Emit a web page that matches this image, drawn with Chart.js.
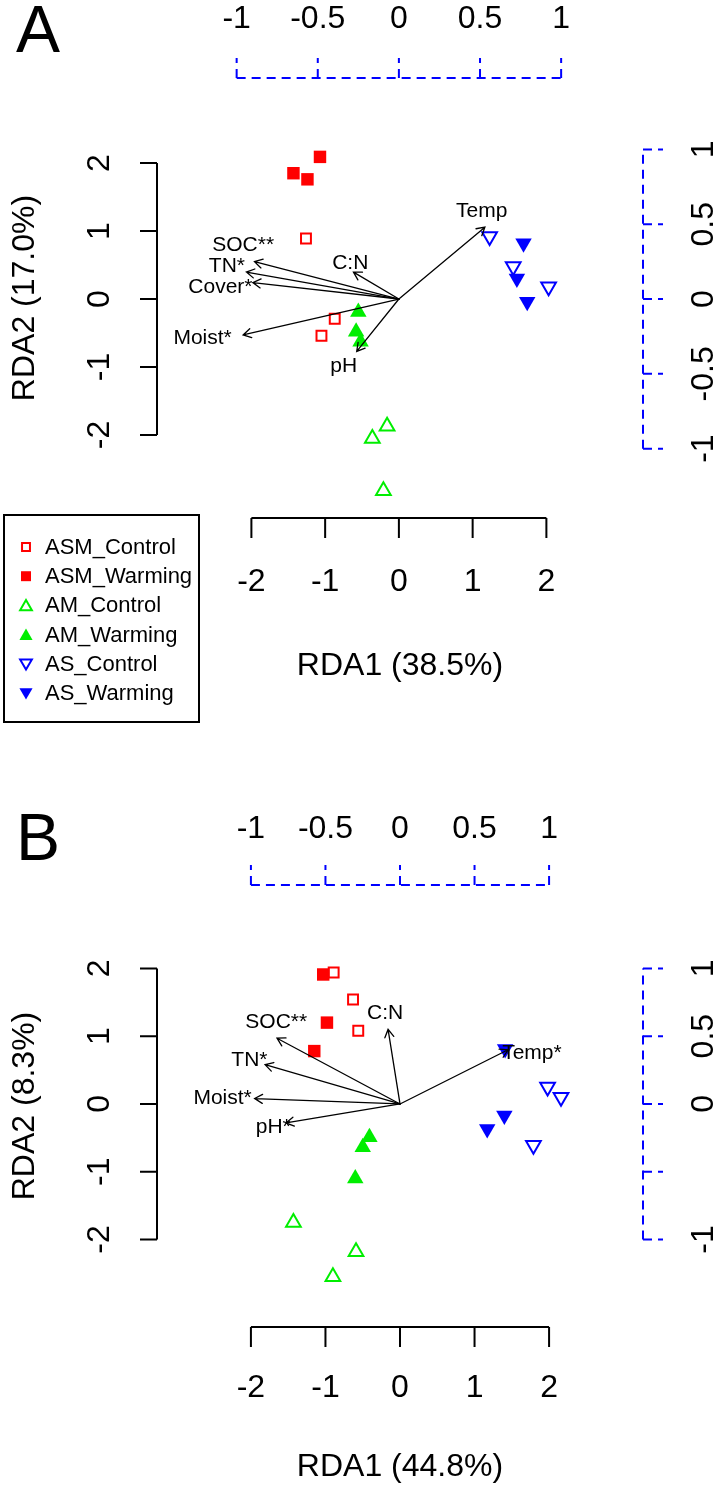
<!DOCTYPE html>
<html><head><meta charset="utf-8">
<script src="https://cdn.jsdelivr.net/npm/chart.js@4.4.1/dist/chart.umd.min.js"></script>
<style>
html,body{margin:0;padding:0;background:#fff;}
#wrap{position:relative;width:721px;height:1490px;overflow:hidden;}
canvas{position:absolute;left:0;}
</style></head><body>
<div id="wrap">
<canvas id="cA" width="721" height="745" style="top:0px"></canvas>
<canvas id="cB" width="721" height="745" style="top:745px"></canvas>
</div>
<script>
// ---------------- DATA ----------------
const groupNames = ['ASM_Control','ASM_Warming','AM_Control','AM_Warming','AS_Control','AS_Warming'];

// Panel A : site scores
const A_ASM_Control_x = [-1.26, -0.87, -1.05];
const A_ASM_Control_y = [0.89, -0.29, -0.54];
const A_ASM_Warming_x = [-1.07, -1.43, -1.24];
const A_ASM_Warming_y = [2.09, 1.85, 1.76];
const A_AM_Control_x  = [-0.16, -0.36, -0.21];
const A_AM_Control_y  = [-1.87, -2.05, -2.82];
const A_AM_Warming_x  = [-0.55, -0.58, -0.52];
const A_AM_Warming_y  = [-0.19, -0.48, -0.63];
const A_AS_Control_x  = [1.23, 1.55, 2.03];
const A_AS_Control_y  = [0.92, 0.48, 0.18];
const A_AS_Warming_x  = [1.69, 1.60, 1.74];
const A_AS_Warming_y  = [0.82, 0.30, -0.04];
// Panel A : environmental arrows (biplot scale)
const A_envNames  = ['Temp','C:N','SOC**','TN*','Cover*','Moist*','pH'];
const A_envX      = [0.53, -0.28, -0.89, -0.94, -0.90, -0.96, -0.26];
const A_envY      = [0.48, 0.18, 0.25, 0.18, 0.11, -0.24, -0.35];
const A_envLabelX = [0.51, -0.30, -0.96, -1.06, -1.10, -1.21, -0.34];
const A_envLabelY = [0.59, 0.24, 0.36, 0.22, 0.08, -0.26, -0.45];
const A_biplotMult = 2.2;
const A_xLim = [-3.28, 3.31];
const A_yLim = [-3.22, 3.25];
const A_xTitle = 'RDA1 (38.5%)';
const A_yTitle = 'RDA2 (17.0%)';

// Panel B : site scores
const B_ASM_Control_x = [-0.89, -0.63, -0.56];
const B_ASM_Control_y = [1.94, 1.54, 1.08];
const B_ASM_Warming_x = [-1.03, -0.98, -1.15];
const B_ASM_Warming_y = [1.91, 1.20, 0.78];
const B_AM_Control_x  = [-1.43, -0.59, -0.90];
const B_AM_Control_y  = [-1.75, -2.18, -2.55];
const B_AM_Warming_x  = [-0.41, -0.50, -0.60];
const B_AM_Warming_y  = [-0.49, -0.64, -1.10];
const B_AS_Control_x  = [1.98, 2.16, 1.79];
const B_AS_Control_y  = [0.25, 0.10, -0.61];
const B_AS_Warming_x  = [1.41, 1.40, 1.17];
const B_AS_Warming_y  = [0.81, -0.17, -0.37];
// Panel B : environmental arrows (biplot scale)
const B_envNames  = ['Temp*','C:N','SOC**','TN*','Moist*','pH*'];
const B_envX      = [0.725, -0.08, -0.825, -0.905, -0.975, -0.765];
const B_envY      = [0.40, 0.55, 0.485, 0.29, 0.04, -0.14];
const B_envLabelX = [0.885, -0.10, -0.83, -1.01, -1.19, -0.85];
const B_envLabelY = [0.375, 0.67, 0.60, 0.325, 0.045, -0.17];
const B_biplotMult = 2.0;
const B_xLim = [-3.26, 3.26];
const B_yLim = [-3.29, 3.23];
const B_xTitle = 'RDA1 (44.8%)';
const B_yTitle = 'RDA2 (8.3%)';

// Tick values / labels
const xTickVals = [-2, -1, 0, 1, 2];
const yTickVals = [-2, -1, 0, 1, 2];
const biplotTickVals = [-1, -0.5, 0, 0.5, 1];
const A_topTickLabels   = ['-1', '-0.5', '0', '0.5', '1'];
const A_rightTickLabels = ['-1', '-0.5', '0', '0.5', '1'];
const B_topTickLabels   = ['-1', '-0.5', '0', '0.5', '1'];
const B_rightTickLabels = ['-1', '', '0', '0.5', '1'];

// ---------------- STYLES ----------------
const RED = '#ff0000', GREEN = '#00ee00', BLUE = '#0000ff';
const groupStyles = [
  {shape:'rect', rot:0,   r:7,   bw:2, color:RED,   filled:false},
  {shape:'rect', rot:0,   r:8.8, bw:0, color:RED,   filled:true},
  {shape:'triangle', rot:0,   r:8.5, bw:2, color:GREEN, filled:false},
  {shape:'triangle', rot:0,   r:9.5, bw:0, color:GREEN, filled:true},
  {shape:'triangle', rot:180, r:8.5, bw:2, color:BLUE,  filled:false},
  {shape:'triangle', rot:180, r:9.5, bw:0, color:BLUE,  filled:true}
];
const FONT = '"Liberation Sans", Arial, Helvetica, sans-serif';

function datasetsFor(xsList, ysList) {
  return groupNames.map((g, i) => {
    const s = groupStyles[i];
    return {
      label: g,
      data: xsList[i].map((v, j) => ({x: v, y: ysList[i][j]})),
      pointStyle: s.shape,
      pointRotation: s.rot,
      pointRadius: s.r,
      pointHoverRadius: s.r,
      pointBorderWidth: s.bw,
      pointBorderColor: s.color,
      pointBackgroundColor: s.filled ? s.color : 'rgba(0,0,0,0)',
      showLine: false
    };
  });
}

function drawMarker(ctx, s, x, y, scale) {
  const r = s.r * scale;
  ctx.save();
  ctx.beginPath();
  if (s.shape === 'rect') {
    const h = Math.SQRT1_2 * r;
    ctx.rect(x - h, y - h, 2 * h, 2 * h);
  } else {
    let rad = s.rot * Math.PI / 180;
    ctx.moveTo(x + Math.sin(rad) * r, y - Math.cos(rad) * r);
    rad += 2 * Math.PI / 3;
    ctx.lineTo(x + Math.sin(rad) * r, y - Math.cos(rad) * r);
    rad += 2 * Math.PI / 3;
    ctx.lineTo(x + Math.sin(rad) * r, y - Math.cos(rad) * r);
    ctx.closePath();
  }
  if (s.filled) { ctx.fillStyle = s.color; ctx.fill(); }
  else { ctx.strokeStyle = s.color; ctx.lineWidth = s.bw; ctx.stroke(); }
  ctx.restore();
}

function vText(ctx, txt, x, y) {
  ctx.save(); ctx.translate(x, y); ctx.rotate(-Math.PI / 2);
  ctx.fillText(txt, 0, 0); ctx.restore();
}

const rdaDecor = {
  id: 'rdaDecor',
  afterDatasetsDraw(chart, args, o) {
    const P = o.panel;
    const ctx = chart.ctx;
    const xs = chart.scales.x, ys = chart.scales.y, x2 = chart.scales.x2, y2 = chart.scales.y2;
    const ca = chart.chartArea;
    ctx.save();

    // ---- arrows ----
    ctx.strokeStyle = '#000'; ctx.lineWidth = 1.3; ctx.lineCap = 'round';
    const ox = x2.getPixelForValue(0), oy = y2.getPixelForValue(0);
    P.envX.forEach((vx, i) => {
      const tx = x2.getPixelForValue(vx), ty = y2.getPixelForValue(P.envY[i]);
      const ang = Math.atan2(ty - oy, tx - ox), L = 9, a = Math.PI / 6;
      ctx.beginPath();
      ctx.moveTo(ox, oy); ctx.lineTo(tx, ty);
      ctx.moveTo(tx - L * Math.cos(ang - a), ty - L * Math.sin(ang - a));
      ctx.lineTo(tx, ty);
      ctx.lineTo(tx - L * Math.cos(ang + a), ty - L * Math.sin(ang + a));
      ctx.stroke();
    });
    ctx.fillStyle = '#000';
    ctx.font = '21px ' + FONT; ctx.textAlign = 'center'; ctx.textBaseline = 'middle';
    P.envNames.forEach((n, i) => {
      ctx.fillText(n, x2.getPixelForValue(P.envLabelX[i]), y2.getPixelForValue(P.envLabelY[i]));
    });

    // ---- main axes (black) ----
    ctx.lineCap = 'butt';
    ctx.strokeStyle = '#000'; ctx.lineWidth = 2;
    ctx.beginPath();
    ctx.moveTo(xs.getPixelForValue(xTickVals[0]), ca.bottom);
    ctx.lineTo(xs.getPixelForValue(xTickVals[xTickVals.length - 1]), ca.bottom);
    xTickVals.forEach(t => { const p = xs.getPixelForValue(t); ctx.moveTo(p, ca.bottom); ctx.lineTo(p, ca.bottom + 20); });
    ctx.moveTo(ca.left, ys.getPixelForValue(yTickVals[0]));
    ctx.lineTo(ca.left, ys.getPixelForValue(yTickVals[yTickVals.length - 1]));
    yTickVals.forEach(t => { const p = ys.getPixelForValue(t); ctx.moveTo(ca.left, p); ctx.lineTo(ca.left - 17, p); });
    ctx.stroke();

    ctx.font = '32px ' + FONT; ctx.textAlign = 'center'; ctx.textBaseline = 'middle';
    xTickVals.forEach(t => ctx.fillText(String(t), xs.getPixelForValue(t), ca.bottom + P.xLabOff));
    ctx.fillText(P.xTitle, (ca.left + ca.right) / 2, ca.bottom + P.xTitleOff);
    yTickVals.forEach(t => vText(ctx, String(t), P.yLabX, ys.getPixelForValue(t)));
    vText(ctx, P.yTitle, P.yTitleX, (ca.top + ca.bottom) / 2);

    // ---- biplot axes (blue dashed) ----
    ctx.strokeStyle = BLUE; ctx.lineWidth = 2; ctx.setLineDash([9, 6]);
    const b0 = biplotTickVals[0], b1 = biplotTickVals[biplotTickVals.length - 1];
    ctx.beginPath();
    ctx.moveTo(x2.getPixelForValue(b0), ca.top); ctx.lineTo(x2.getPixelForValue(b1), ca.top);
    ctx.stroke();
    biplotTickVals.forEach(t => { const p = x2.getPixelForValue(t); ctx.beginPath(); ctx.moveTo(p, ca.top); ctx.lineTo(p, ca.top - 20); ctx.stroke(); });
    ctx.beginPath();
    ctx.moveTo(ca.right, y2.getPixelForValue(b0)); ctx.lineTo(ca.right, y2.getPixelForValue(b1));
    ctx.stroke();
    biplotTickVals.forEach(t => { const p = y2.getPixelForValue(t); ctx.beginPath(); ctx.moveTo(ca.right, p); ctx.lineTo(ca.right + 20, p); ctx.stroke(); });
    ctx.setLineDash([]);

    ctx.fillStyle = '#000';
    biplotTickVals.forEach((t, i) => ctx.fillText(P.topLabels[i], x2.getPixelForValue(t), P.topLabY));
    biplotTickVals.forEach((t, i) => { if (P.rightLabels[i]) vText(ctx, P.rightLabels[i], P.rightLabX, y2.getPixelForValue(t)); });

    // ---- panel letter ----
    ctx.font = '66px ' + FONT; ctx.textAlign = 'left'; ctx.textBaseline = 'alphabetic';
    ctx.fillText(P.letter, 16, P.letterBase);

    // ---- legend ----
    if (P.legend) {
      const L = P.legend;
      ctx.strokeStyle = '#000'; ctx.lineWidth = 2;
      ctx.strokeRect(L.x, L.y, L.w, L.h);
      ctx.font = '22px ' + FONT; ctx.textAlign = 'left'; ctx.textBaseline = 'middle';
      groupNames.forEach((g, i) => {
        const yy = L.y + L.first + i * L.step;
        drawMarker(ctx, groupStyles[i], L.x + 22, yy + (groupStyles[i].shape === 'triangle' ? (groupStyles[i].rot ? -1 : 1.5) : 0), 0.8);
        ctx.fillStyle = '#000';
        ctx.fillText(g, L.x + 41, yy + 1);
      });
    }
    ctx.restore();
  }
};

function makeChart(id, P) {
  return new Chart(document.getElementById(id), {
    type: 'scatter',
    data: { datasets: datasetsFor(P.xsList, P.ysList) },
    options: {
      responsive: false, animation: false, events: [],
      layout: { padding: P.padding },
      plugins: { legend: { display: false }, tooltip: { enabled: false }, title: { display: false },
                 rdaDecor: { panel: P } },
      scales: {
        x:  { type: 'linear', min: P.xLim[0], max: P.xLim[1], display: false },
        y:  { type: 'linear', min: P.yLim[0], max: P.yLim[1], display: false },
        x2: { type: 'linear', axis: 'x', position: 'top', min: P.xLim[0] / P.mult, max: P.xLim[1] / P.mult, display: false },
        y2: { type: 'linear', axis: 'y', position: 'right', min: P.yLim[0] / P.mult, max: P.yLim[1] / P.mult, display: false }
      }
    },
    plugins: [rdaDecor]
  });
}

makeChart('cA', {
  letter: 'A', letterBase: 52,
  xsList: [A_ASM_Control_x, A_ASM_Warming_x, A_AM_Control_x, A_AM_Warming_x, A_AS_Control_x, A_AS_Warming_x],
  ysList: [A_ASM_Control_y, A_ASM_Warming_y, A_AM_Control_y, A_AM_Warming_y, A_AS_Control_y, A_AS_Warming_y],
  envNames: A_envNames, envX: A_envX, envY: A_envY, envLabelX: A_envLabelX, envLabelY: A_envLabelY,
  mult: A_biplotMult, xLim: A_xLim, yLim: A_yLim, xTitle: A_xTitle, yTitle: A_yTitle,
  topLabels: A_topTickLabels, rightLabels: A_rightTickLabels,
  padding: { left: 157, right: 78, top: 78, bottom: 227 },
  xLabOff: 64, xTitleOff: 148, yLabX: 100, yTitleX: 25, topLabY: 19, rightLabX: 704,
  legend: { x: 4, y: 515, w: 195, h: 207, first: 32, step: 29.2 }
});

makeChart('cB', {
  letter: 'B', letterBase: 115,
  xsList: [B_ASM_Control_x, B_ASM_Warming_x, B_AM_Control_x, B_AM_Warming_x, B_AS_Control_x, B_AS_Warming_x],
  ysList: [B_ASM_Control_y, B_ASM_Warming_y, B_AM_Control_y, B_AM_Warming_y, B_AS_Control_y, B_AS_Warming_y],
  envNames: B_envNames, envX: B_envX, envY: B_envY, envLabelX: B_envLabelX, envLabelY: B_envLabelY,
  mult: B_biplotMult, xLim: B_xLim, yLim: B_yLim, xTitle: B_xTitle, yTitle: B_yTitle,
  topLabels: B_topTickLabels, rightLabels: B_rightTickLabels,
  padding: { left: 157, right: 78, top: 140, bottom: 163 },
  xLabOff: 61, xTitleOff: 140, yLabX: 100, yTitleX: 25, topLabY: 84, rightLabX: 704,
  legend: null
});
</script>
</body></html>
